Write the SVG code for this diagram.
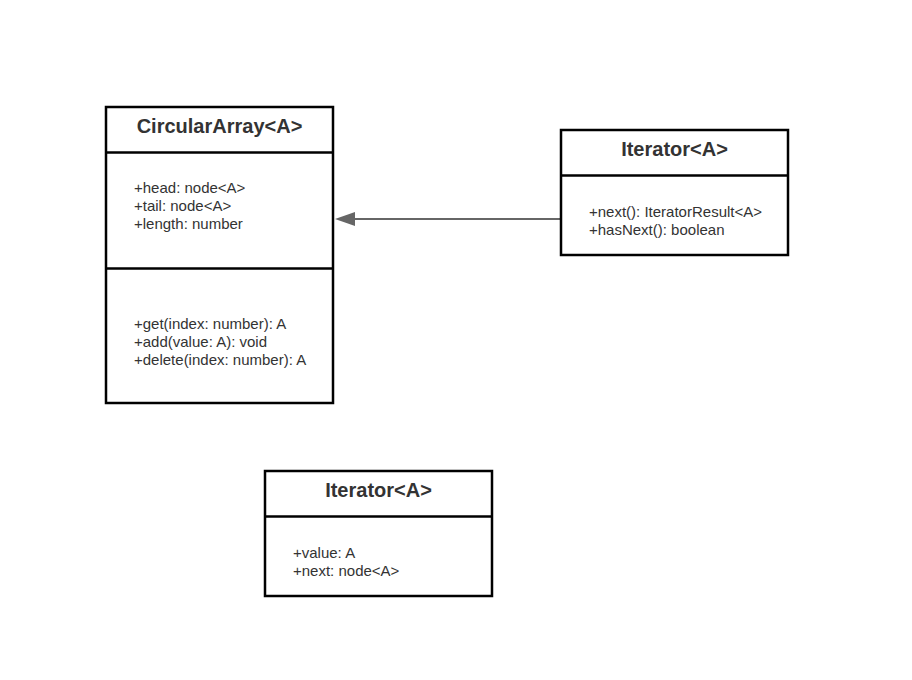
<svg xmlns="http://www.w3.org/2000/svg" width="912" height="680" viewBox="0 0 912 680">
<style>
.box{fill:#fff;stroke:#000;stroke-width:2.5}
.div{stroke:#000;stroke-width:2.5}
.title{font-family:"Liberation Sans",Arial,sans-serif;font-size:20px;font-weight:bold;fill:#333;text-anchor:middle}
.txt{font-family:"Liberation Sans",Arial,sans-serif;font-size:15px;fill:#333}
.conn{stroke:#666;stroke-width:2;fill:none}
</style>
<rect width="912" height="680" fill="#fff"/>
<g id="connectors">
<path class="conn" d="M561,219 L345,219" />
<path d="M355,212 L335,219 L355,226 Z" fill="#666"/>
</g>
<g id="circularArray">
<rect class="box" x="106" y="107" width="227" height="296"/>
<line class="div" x1="106" y1="152.5" x2="333" y2="152.5"/>
<line class="div" x1="106" y1="268.5" x2="333" y2="268.5"/>
<text class="title" x="219.5" y="133">CircularArray&lt;A&gt;</text>
<text class="txt" x="134" y="193">+head: node&lt;A&gt;</text>
<text class="txt" x="134" y="211">+tail: node&lt;A&gt;</text>
<text class="txt" x="134" y="229">+length: number</text>
<text class="txt" x="134" y="329">+get(index: number): A</text>
<text class="txt" x="134" y="347">+add(value: A): void</text>
<text class="txt" x="134" y="365">+delete(index: number): A</text>
</g>
<g id="iterator">
<rect class="box" x="561" y="130" width="227" height="125"/>
<line class="div" x1="561" y1="175.5" x2="788" y2="175.5"/>
<text class="title" x="674.5" y="156">Iterator&lt;A&gt;</text>
<text class="txt" x="589" y="217">+next(): IteratorResult&lt;A&gt;</text>
<text class="txt" x="589" y="235">+hasNext(): boolean</text>
</g>
<g id="node">
<rect class="box" x="265" y="471" width="227" height="125"/>
<line class="div" x1="265" y1="516.5" x2="492" y2="516.5"/>
<text class="title" x="378.5" y="497">Iterator&lt;A&gt;</text>
<text class="txt" x="293" y="558">+value: A</text>
<text class="txt" x="293" y="576">+next: node&lt;A&gt;</text>
</g>
</svg>
